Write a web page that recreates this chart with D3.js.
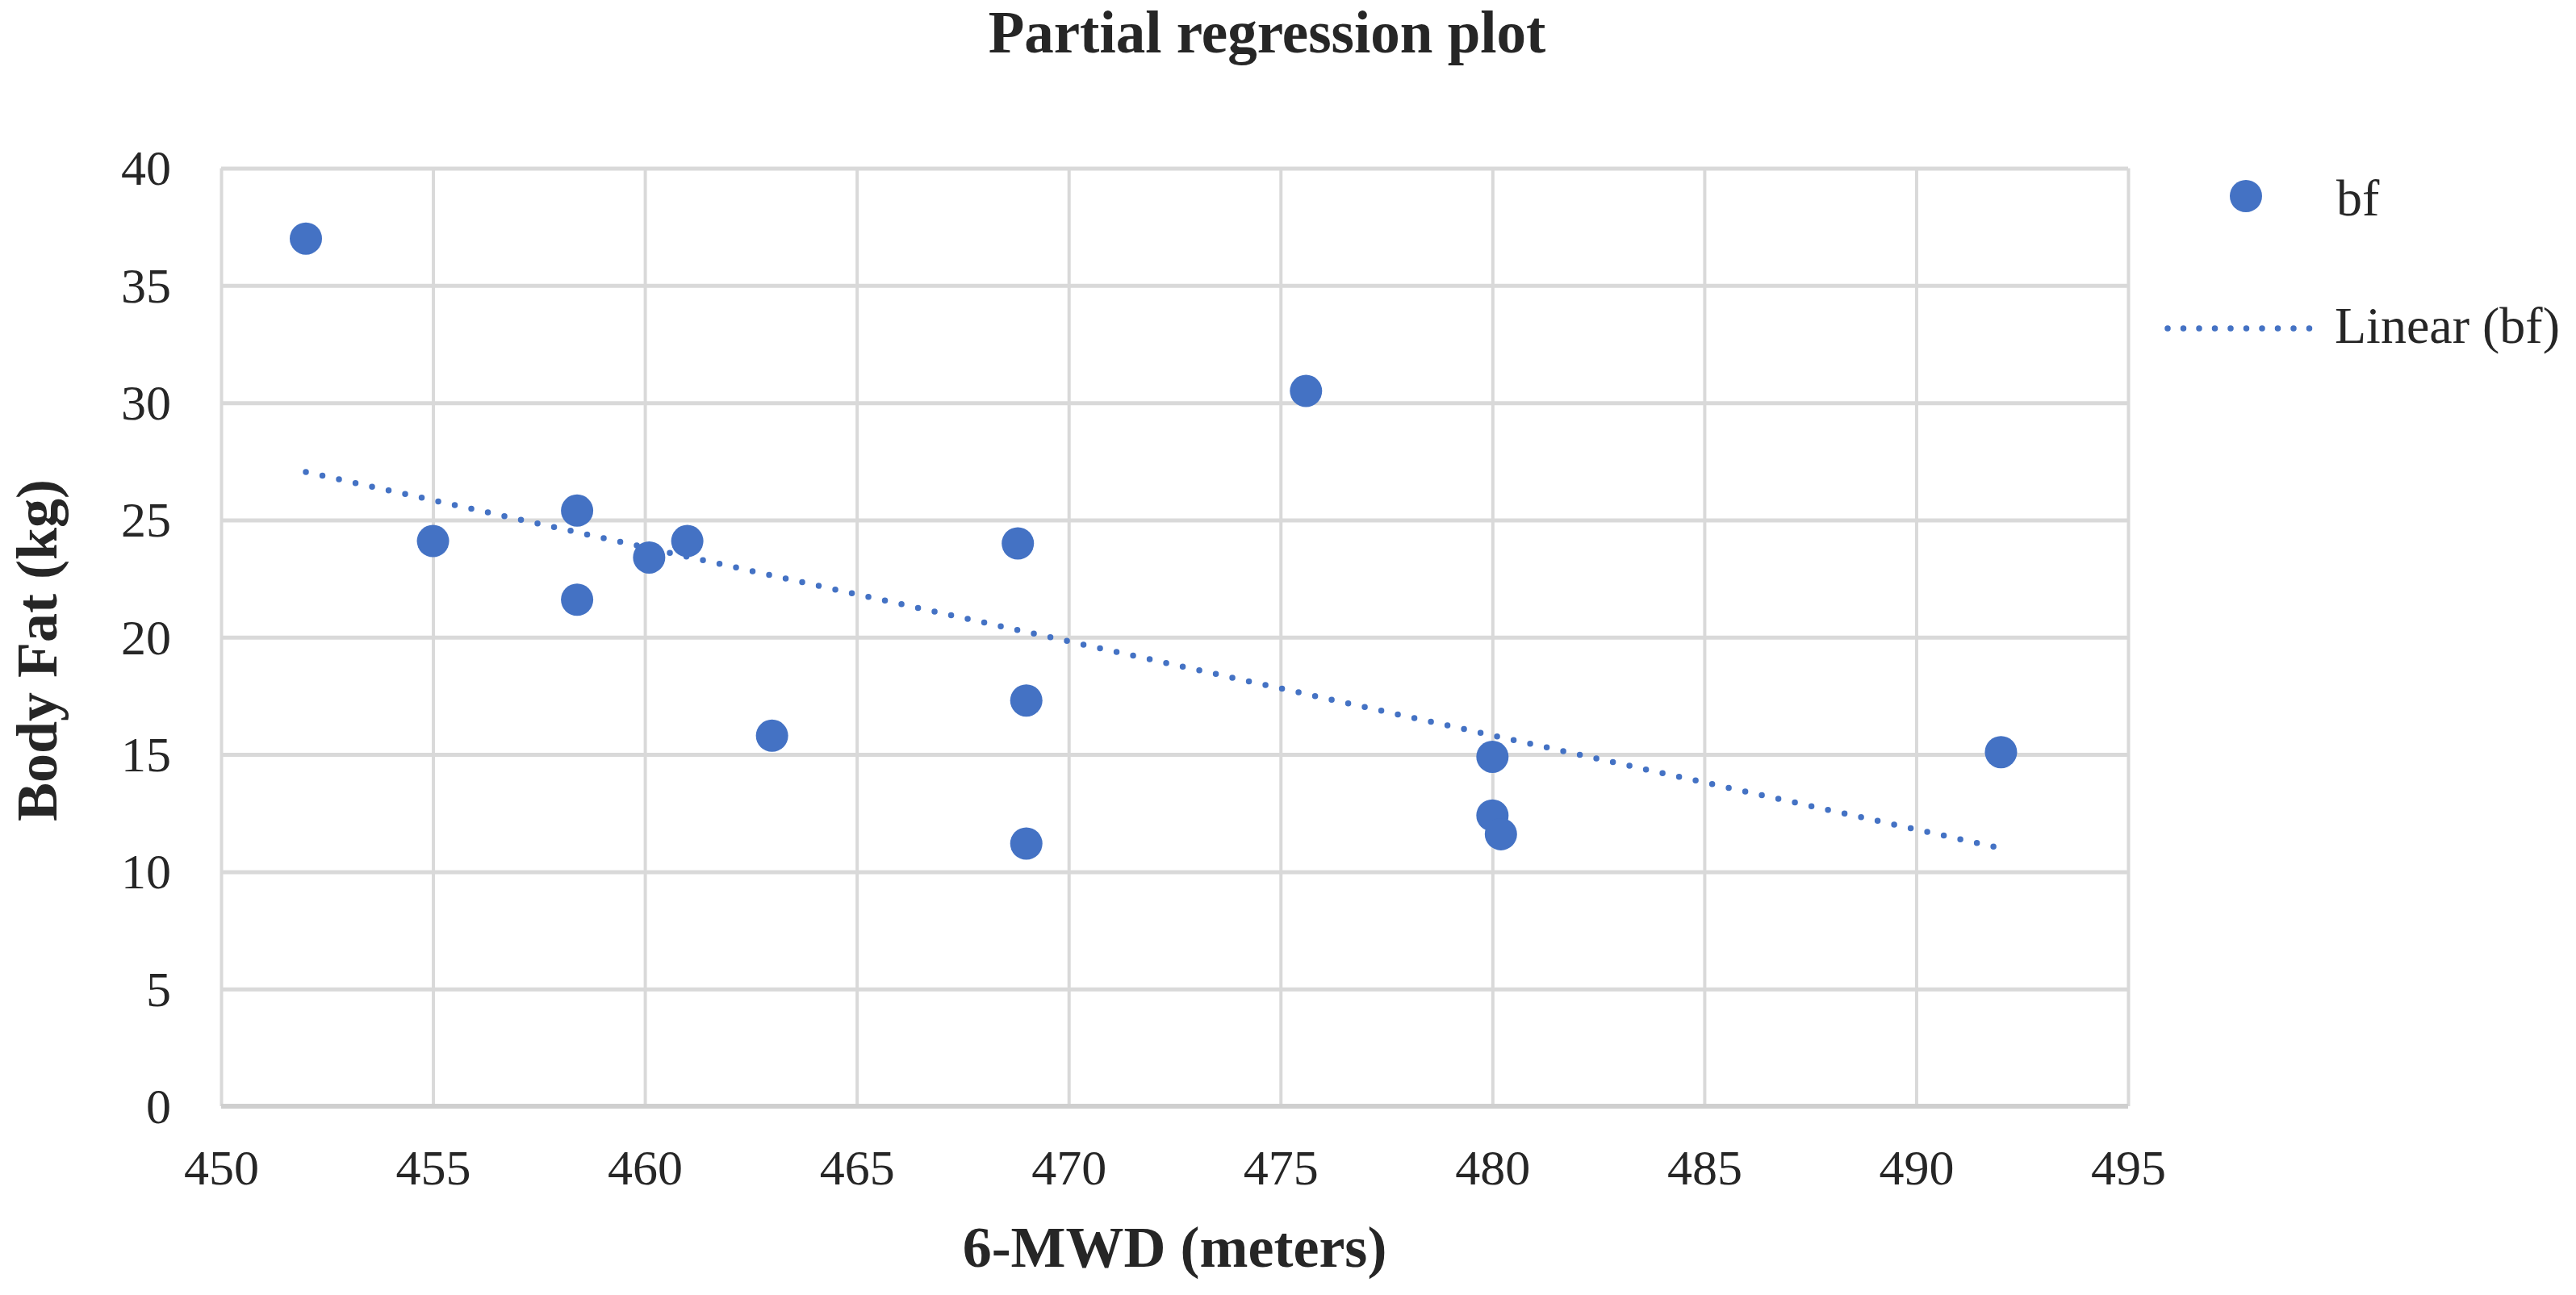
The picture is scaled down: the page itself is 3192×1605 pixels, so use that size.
<!DOCTYPE html>
<html>
<head>
<meta charset="utf-8">
<script src="https://cdn.jsdelivr.net/npm/d3@7"></script>
<style>
  html, body { margin: 0; padding: 0; background: #ffffff; }
  svg { display: block; }
  text { font-family: "Liberation Serif", "Times New Roman", serif; }
</style>
</head>
<body>
<svg id="chart" width="3192" height="1605"></svg>
<script>
// ---- data ----
const mwd = [452.0, 455.0, 458.4, 458.4, 460.1, 461.0, 463.0, 468.8, 469.0, 469.0, 475.6, 480.0, 480.0, 480.2, 492.0];
const bodyFat = [37.0, 24.1, 25.4, 21.6, 23.4, 24.1, 15.8, 24.0, 17.3, 11.2, 30.5, 14.9, 12.4, 11.6, 15.1];
const xTicks = [450, 455, 460, 465, 470, 475, 480, 485, 490, 495];
const yTicks = [0, 5, 10, 15, 20, 25, 30, 35, 40];
const chartTitle = "Partial regression plot";
const xTitle = "6-MWD (meters)";
const yTitle = "Body Fat (kg)";
const seriesName = "bf";
const trendName = "Linear (bf)";

// ---- layout ----
const plotL = 274, plotR = 2637, plotT = 208.5, plotB = 1371;
const blue = "#4472C4";
const grid = "#d9d9d9";
const textCol = "#262626";

const svg = d3.select("#chart");
const x = d3.scaleLinear().domain([450, 495]).range([plotL, plotR]);
const y = d3.scaleLinear().domain([0, 40]).range([plotB, plotT]);

// gridlines + tick labels via axes
const gx = svg.append("g")
  .attr("transform", `translate(0,${plotB})`)
  .call(d3.axisBottom(x).tickValues(xTicks).tickSize(-(plotB - plotT)).tickFormat(d3.format("d")));
gx.select(".domain").remove();
gx.selectAll(".tick line").attr("stroke", grid).attr("stroke-width", 4);
gx.selectAll(".tick text")
  .attr("y", 97).attr("dy", 0)
  .attr("fill", textCol)
  .style("font-size", "62px")
  .style("font-family", "'Liberation Serif', 'Times New Roman', serif");

const gy = svg.append("g")
  .attr("transform", `translate(${plotL},0)`)
  .call(d3.axisLeft(y).tickValues(yTicks).tickSize(-(plotR - plotL)).tickFormat(d3.format("d")));
gy.select(".domain").remove();
gy.selectAll(".tick line").attr("stroke", grid).attr("stroke-width", 5);
gy.selectAll(".tick text")
  .attr("x", -62).attr("dy", "0.33em")
  .attr("fill", textCol)
  .style("font-size", "62px")
  .style("font-family", "'Liberation Serif', 'Times New Roman', serif");

// bottom axis line slightly stronger
svg.append("line")
  .attr("x1", plotL).attr("x2", plotR)
  .attr("y1", y(0)).attr("y2", y(0))
  .attr("stroke", "#cfcfcf").attr("stroke-width", 6);

// ---- linear trend (least squares from data) ----
const mx = d3.mean(mwd), my = d3.mean(bodyFat);
let sxy = 0, sxx = 0;
mwd.forEach((v, i) => { sxy += (v - mx) * (bodyFat[i] - my); sxx += (v - mx) * (v - mx); });
const slope = sxy / sxx, intercept = my - slope * mx;
const xr = d3.extent(mwd);
const trend = xr.map(v => [v, intercept + slope * v]);

svg.append("path")
  .datum(trend)
  .attr("d", d3.line().x(d => x(d[0])).y(d => y(d[1])))
  .attr("fill", "none")
  .attr("stroke", blue)
  .attr("stroke-width", 7.5)
  .attr("stroke-linecap", "round")
  .attr("stroke-dasharray", "0 21");

// ---- points ----
svg.append("g").selectAll("circle")
  .data(mwd.map((v, i) => [v, bodyFat[i]]))
  .join("circle")
  .attr("cx", d => x(d[0]))
  .attr("cy", d => y(d[1]))
  .attr("r", 20)
  .attr("fill", blue);

// ---- titles ----
svg.append("text")
  .attr("x", 1570).attr("y", 65)
  .attr("text-anchor", "middle")
  .attr("fill", textCol)
  .style("font-size", "73px").style("font-weight", "bold")
  .text(chartTitle);

svg.append("text")
  .attr("x", (plotL + plotR) / 2).attr("y", 1570)
  .attr("text-anchor", "middle")
  .attr("fill", textCol)
  .style("font-size", "72px").style("font-weight", "bold")
  .text(xTitle);

svg.append("text")
  .attr("transform", "translate(70,806) rotate(-90)")
  .attr("text-anchor", "middle")
  .attr("fill", textCol)
  .style("font-size", "72px").style("font-weight", "bold")
  .text(yTitle);

// ---- legend ----
const lg = svg.append("g");
lg.append("circle").attr("cx", 2783).attr("cy", 243).attr("r", 20).attr("fill", blue);
lg.append("text").attr("x", 2895).attr("y", 267)
  .attr("fill", textCol).style("font-size", "64px").text(seriesName);
lg.append("line")
  .attr("x1", 2686).attr("x2", 2862).attr("y1", 407).attr("y2", 407)
  .attr("stroke", blue).attr("stroke-width", 7.5)
  .attr("stroke-linecap", "round").attr("stroke-dasharray", "0 19.5");
lg.append("text").attr("x", 2893).attr("y", 425)
  .attr("fill", textCol).style("font-size", "64px").text(trendName);
</script>
</body>
</html>
